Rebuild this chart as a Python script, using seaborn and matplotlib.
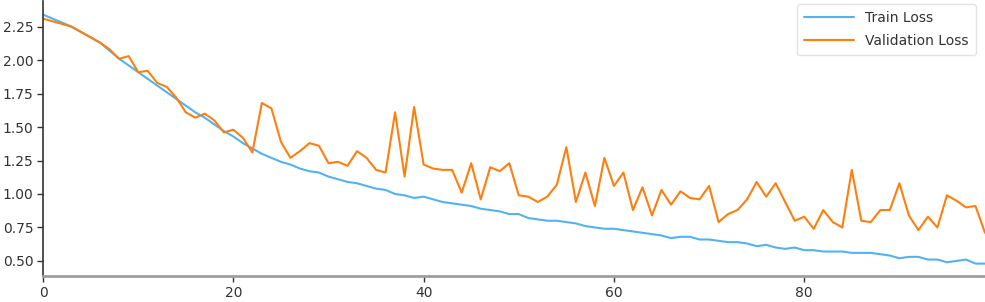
import numpy as np
import pandas as pd
import matplotlib
matplotlib.use("Agg")
import matplotlib.pyplot as plt
import seaborn as sns

epochs = list(range(100))

train_loss = [
    2.34, 2.31, 2.28, 2.25, 2.21, 2.17, 2.13, 2.07, 2.01, 1.96,
    1.91, 1.86, 1.81, 1.76, 1.71, 1.66, 1.61, 1.57, 1.52, 1.47,
    1.43, 1.38, 1.34, 1.30, 1.27, 1.24, 1.22, 1.19, 1.17, 1.16,
    1.13, 1.11, 1.09, 1.08, 1.06, 1.04, 1.03, 1.00, 0.99, 0.97,
    0.98, 0.96, 0.94, 0.93, 0.92, 0.91, 0.89, 0.88, 0.87, 0.85,
    0.85, 0.82, 0.81, 0.80, 0.80, 0.79, 0.78, 0.76, 0.75, 0.74,
    0.74, 0.73, 0.72, 0.71, 0.70, 0.69, 0.67, 0.68, 0.68, 0.66,
    0.66, 0.65, 0.64, 0.64, 0.63, 0.61, 0.62, 0.60, 0.59, 0.60,
    0.58, 0.58, 0.57, 0.57, 0.57, 0.56, 0.56, 0.56, 0.55, 0.54,
    0.52, 0.53, 0.53, 0.51, 0.51, 0.49, 0.50, 0.51, 0.48, 0.48,
]

val_loss = [
    2.31, 2.29, 2.27, 2.25, 2.21, 2.17, 2.13, 2.08, 2.01, 2.03,
    1.91, 1.92, 1.83, 1.80, 1.72, 1.61, 1.57, 1.60, 1.55, 1.46,
    1.48, 1.42, 1.31, 1.68, 1.64, 1.39, 1.27, 1.32, 1.38, 1.36,
    1.23, 1.24, 1.21, 1.32, 1.27, 1.18, 1.16, 1.61, 1.13, 1.65,
    1.22, 1.19, 1.18, 1.18, 1.01, 1.23, 0.96, 1.20, 1.17, 1.23,
    0.99, 0.98, 0.94, 0.98, 1.07, 1.35, 0.94, 1.16, 0.91, 1.27,
    1.06, 1.16, 0.88, 1.05, 0.84, 1.03, 0.92, 1.02, 0.97, 0.96,
    1.06, 0.79, 0.85, 0.88, 0.96, 1.09, 0.98, 1.08, 0.94, 0.80,
    0.83, 0.74, 0.88, 0.79, 0.75, 1.18, 0.80, 0.79, 0.88, 0.88,
    1.08, 0.84, 0.73, 0.83, 0.75, 0.99, 0.95, 0.90, 0.91, 0.71,
]

series_names = ["Train Loss", "Validation Loss"]
colors = ["#52b3f0", "#ff7f0e"]

sns.set_style("white")
plt.rcParams['font.family'] = ['DejaVu Sans']

fig = plt.figure(figsize=(9.85, 3.02), dpi=100)
ax = fig.add_axes([0.0437, 0.086, 0.9563, 0.91])

sns.lineplot(x=epochs, y=train_loss, ax=ax, color=colors[0], lw=1.5, label=series_names[0])
sns.lineplot(x=epochs, y=val_loss, ax=ax, color=colors[1], lw=1.5, label=series_names[1])

ax.set_xlim(0, 99)
ax.set_ylim(0.387, 2.44)
ax.set_xticks([0, 20, 40, 60, 80])
ax.set_yticks([0.5, 0.75, 1.0, 1.25, 1.5, 1.75, 2.0, 2.25])
ax.set_yticklabels(["0.50", "0.75", "1.00", "1.25", "1.50", "1.75", "2.00", "2.25"])

for s in ["top", "right"]:
    ax.spines[s].set_visible(False)
ax.spines["left"].set_color("#333333")
ax.spines["left"].set_linewidth(1.2)
ax.spines["bottom"].set_color("#9aa0a0")
ax.spines["bottom"].set_linewidth(2.0)

ax.tick_params(axis="both", which="major", length=4, width=1, color="#333333",
               labelsize=10, labelcolor="#333333", left=True, bottom=True, pad=3)

leg = ax.legend(loc="upper right", fontsize=10, frameon=True, borderpad=0.5,
                handlelength=3.6, labelspacing=0.65, borderaxespad=0.2,
                bbox_to_anchor=(0.993, 1.0))
leg.get_frame().set_edgecolor("#dddddd")
for t in leg.get_texts():
    t.set_color("#333333")

fig.savefig("out.png", dpi=100)
